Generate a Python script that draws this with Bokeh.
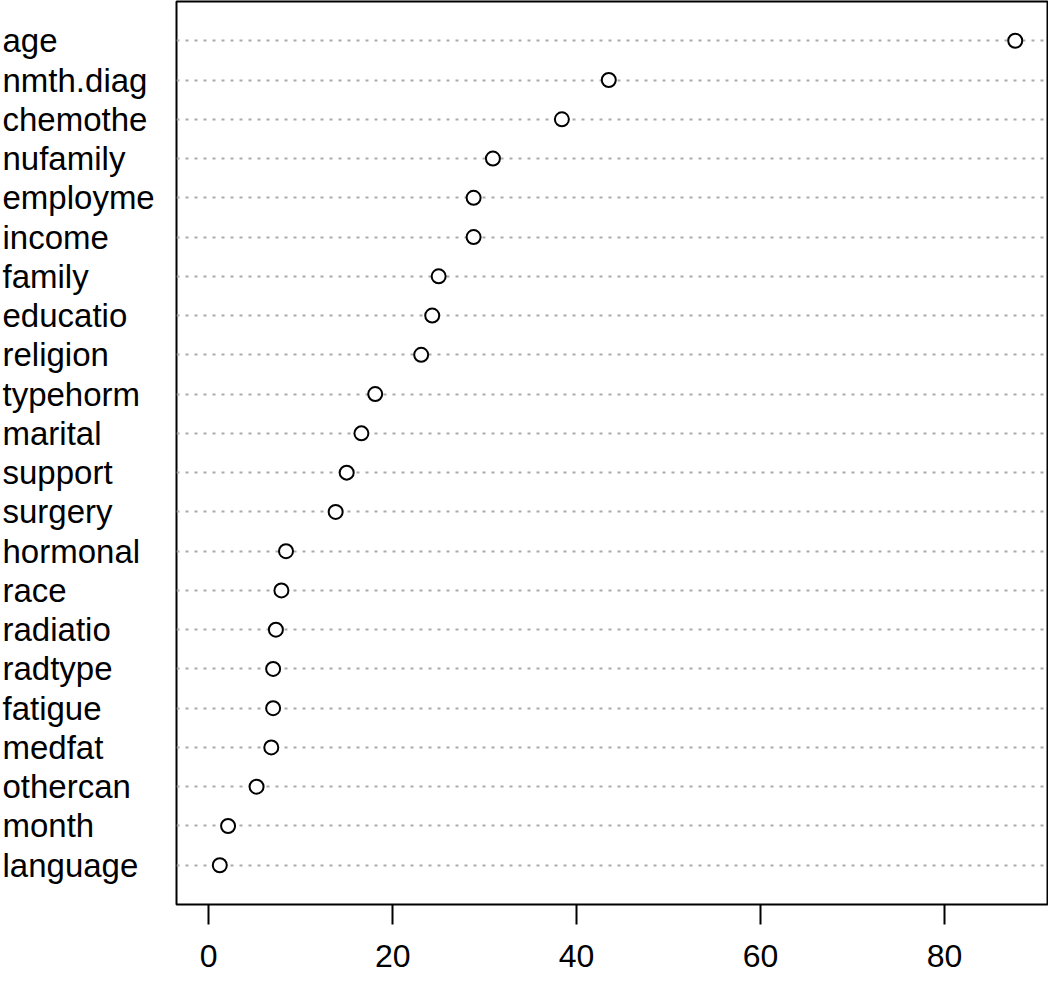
from bokeh.plotting import figure
from bokeh.models import Range1d, FixedTicker, ColumnDataSource
from bokeh.layouts import row
from bokeh.core.properties import value
from bokeh.embed import file_html
from bokeh.resources import INLINE

variables = ["age", "nmth.diag", "chemothe", "nufamily", "employme", "income",
             "family", "educatio", "religion", "typehorm", "marital", "support",
             "surgery", "hormonal", "race", "radiatio", "radtype", "fatigue",
             "medfat", "othercan", "month", "language"]
importance = [87.7, 43.5, 38.4, 30.9, 28.8, 28.8,
              25.0, 24.3, 23.1, 18.1, 16.6, 15.0,
              13.8, 8.4, 7.9, 7.3, 7.0, 7.0,
              6.8, 5.2, 2.1, 1.2]
x_ticks = [0, 20, 40, 60, 80]

n = len(variables)
positions = list(range(n, 0, -1))  # top row = first variable

FONT = "Liberation Sans"
FS = "33px"
H = 978
BOTTOM = 74
LEFT_W = 172
MAIN_W = 876

src = ColumnDataSource(dict(var=variables, imp=importance, pos=positions,
                            lx=[2] * n))

yr = Range1d(0, n + 1)
xmax = max(importance)
pad = 0.04 * xmax
xr = Range1d(0 - pad, xmax + pad)


def style_xaxis(p, visible_text=True):
    ax = p.xaxis[0]
    ax.axis_line_color = None
    ax.major_tick_out = 20
    ax.major_tick_in = 0
    ax.minor_tick_line_color = None
    ax.major_tick_line_width = 2
    ax.major_tick_line_color = "black" if visible_text else None
    ax.major_label_text_font = FONT
    ax.major_label_text_font_size = "32px"
    ax.major_label_text_color = "black" if visible_text else None
    ax.major_label_standoff = 20


# left label panel
pl = figure(width=LEFT_W, height=H, x_range=Range1d(0, LEFT_W), y_range=yr,
            output_backend="svg", toolbar_location=None,
            min_border_left=0, min_border_right=0, min_border_top=1,
            min_border_bottom=BOTTOM)
pl.outline_line_color = None
pl.yaxis.visible = False
pl.grid.visible = False
style_xaxis(pl, visible_text=False)
pl.xaxis[0].ticker = FixedTicker(ticks=[50])
pl.text(x="lx", y="pos", text="var", source=src,
        text_font=value(FONT), text_font_size=value(FS),
        text_align="left", text_baseline="middle", text_color="black")

# main dot chart
p = figure(width=MAIN_W, height=H, x_range=xr, y_range=yr,
           output_backend="svg", toolbar_location=None,
           min_border_left=4, min_border_right=1, min_border_top=1,
           min_border_bottom=BOTTOM)
p.outline_line_color = "black"
p.outline_line_width = 2
p.yaxis.visible = False
p.xgrid.visible = False
p.ygrid.ticker = FixedTicker(ticks=positions)
p.ygrid.grid_line_color = "#aaaaaa"
p.ygrid.grid_line_dash = "3 6"
p.ygrid.grid_line_width = 2
style_xaxis(p)
p.xaxis[0].ticker = FixedTicker(ticks=x_ticks)

p.scatter(x="imp", y="pos", source=src, marker="circle", size=14,
          fill_color="white", line_color="black", line_width=2)

layout = row(pl, p)
open("out.html", "w").write(file_html(layout, INLINE))
